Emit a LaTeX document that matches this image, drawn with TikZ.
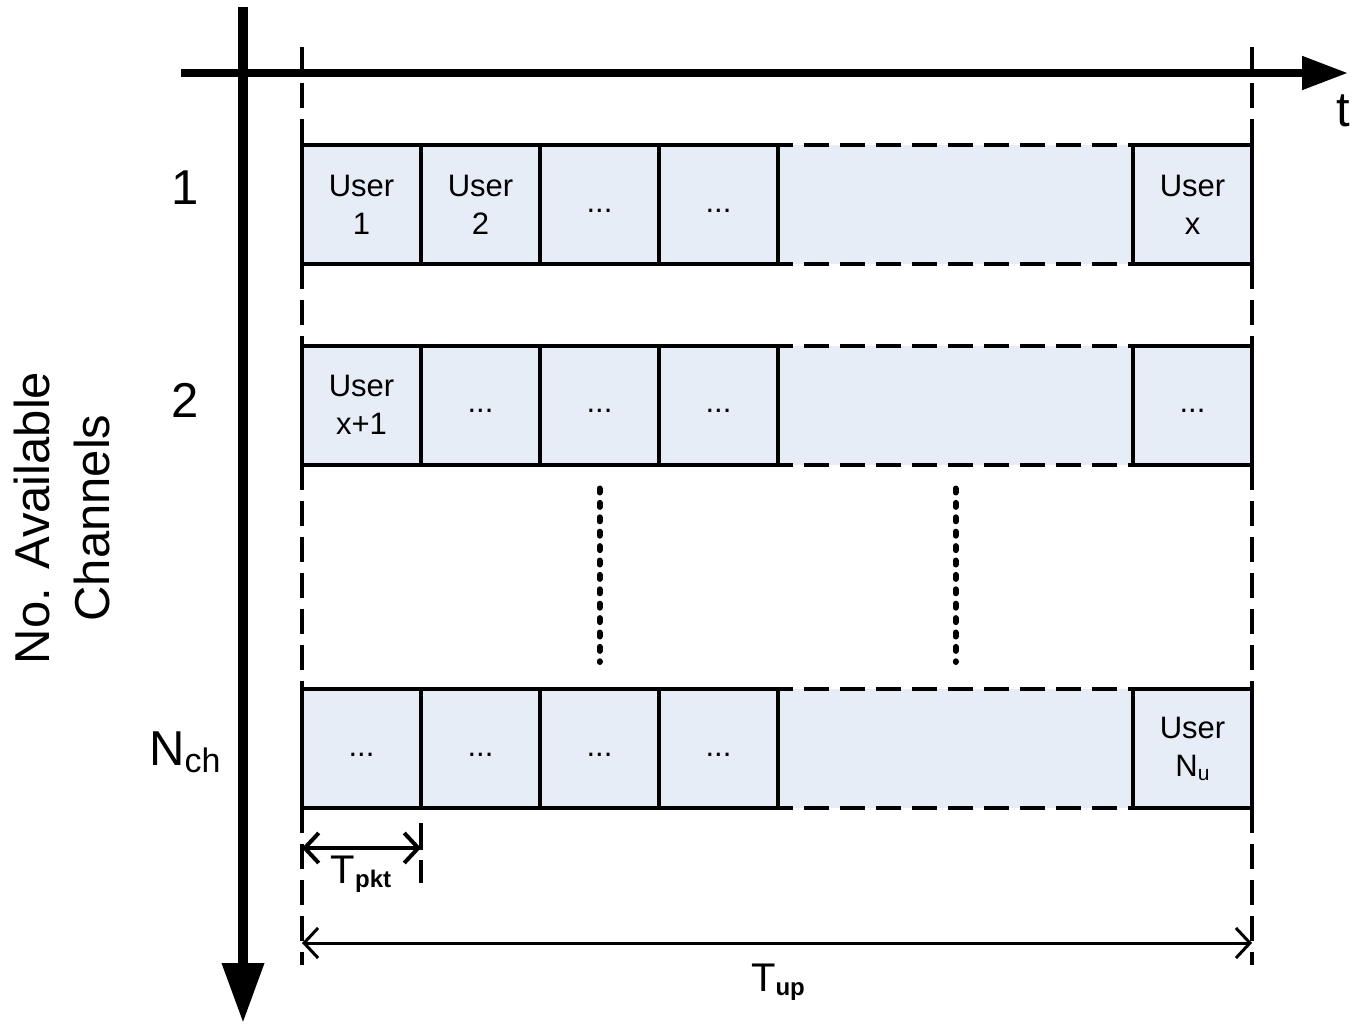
\documentclass[tikz,border=0pt]{standalone}
\usepackage{fontspec}
\setmainfont{Liberation Sans}
\usepackage{tikz}
\usetikzlibrary{positioning}
\usetikzlibrary{arrows.meta}
\definecolor{cellblue}{RGB}{230,237,247}
\newcommand{\lowsub}[3]{\raisebox{-#1}{\fontsize{#2}{#2}\selectfont #3}}

\begin{document}
\begin{tikzpicture}[x=1pt, y=-1pt]
      \tikzstyle{cellbox} = [draw, line width=4pt, fill=cellblue, minimum width=119pt, minimum height=119pt, inner sep=0pt, outer sep=0pt, align=center, font=\fontsize{31}{38}\selectfont]
      \tikzstyle{gapbox} = [fill=cellblue, minimum width=351pt, minimum height=119pt, inner sep=0pt, outer sep=0pt]
      \tikzstyle{dashline} = [line width=4pt, dash pattern=on 25pt off 11pt]
      \tikzstyle{dotline} = [line width=6pt, line cap=round, dash pattern=on 4pt off 10.4pt]
      \tikzstyle{rowlabel} = [inner sep=0pt, anchor=base, font=\fontsize{49}{60}\selectfont]
      \tikzstyle{spanarrow} = [{Straight Barb[length=14pt,width=30pt]}-{Straight Barb[length=14pt,width=30pt]}]

      \useasboundingbox (0,0) rectangle (1352,1024);

      % channel 1
      \node (user1) [cellbox] at (361.5,204.5) {User\\1};
      \node (user2) [cellbox, right=0pt of user1] {User\\2};
      \node (slot1c) [cellbox, right=0pt of user2] {\strut...};
      \node (slot1d) [cellbox, right=0pt of slot1c] {\strut...};
      \node (gap1) [gapbox, right=2pt of slot1d] {};
      \node (userX) [cellbox, right=2pt of gap1] {User\\x};
      \draw[dashline, dash phase=10pt] (slot1d.north east) -- (userX.north west);
      \draw[dashline, dash phase=10pt] (slot1d.south east) -- (userX.south west);

      % channel 2
      \node (userX1) [cellbox] at (361.5,405) {User\\x+1};
      \node (slot2b) [cellbox, right=0pt of userX1] {\strut...};
      \node (slot2c) [cellbox, right=0pt of slot2b] {\strut...};
      \node (slot2d) [cellbox, right=0pt of slot2c] {\strut...};
      \node (gap2) [gapbox, right=2pt of slot2d] {};
      \node (slot2f) [cellbox, right=2pt of gap2] {\strut...};
      \draw[dashline, dash phase=10pt] (slot2d.north east) -- (slot2f.north west);
      \draw[dashline, dash phase=10pt] (slot2d.south east) -- (slot2f.south west);

      % channel N_ch
      \node (slotNa) [cellbox] at (361.5,748.5) {\strut...};
      \node (slotNb) [cellbox, right=0pt of slotNa] {\strut...};
      \node (slotNc) [cellbox, right=0pt of slotNb] {\strut...};
      \node (slotNd) [cellbox, right=0pt of slotNc] {\strut...};
      \node (gapN) [gapbox, right=2pt of slotNd] {};
      \node (userNu) [cellbox, right=2pt of gapN] {User\\N\lowsub{4pt}{21}{u}};
      \draw[dashline, dash phase=10pt] (slotNd.north east) -- (userNu.north west);
      \draw[dashline, dash phase=10pt] (slotNd.south east) -- (userNu.south west);

      % skipped channels
      \draw[dotline] ([yshift=-24pt]slot2c.south) -- ([yshift=27pt]slotNc.north);
      \draw[dotline] ([yshift=-24pt]gap2.south) -- ([yshift=27pt]gapN.north);

      % update period borders
      \coordinate (leftTop) at (302,47);
      \coordinate (leftEnd) at (302,965);
      \coordinate (rightTop) at (1252,47);
      \coordinate (rightEnd) at (1252,965);
      \draw[dashline] (leftTop) -- (user1.north west) (user1.south west) -- (userX1.north west)
            (userX1.south west) -- (slotNa.north west) (slotNa.south west) -- (leftEnd);
      \draw[dashline] (rightTop) -- (userX.north east) (userX.south east) -- (slot2f.north east)
            (slot2f.south east) -- (userNu.north east) (userNu.south east) -- (rightEnd);

      % axes
      \coordinate (chanTop) at (243,7);
      \coordinate (chanEnd) at (243,1023);
      \coordinate (timeStart) at (181,73);
      \coordinate (timeEnd) at (1348,73);
      \draw[line width=8pt, -{Triangle[length=46pt,width=32pt]}] (timeStart) -- (timeEnd);
      \draw[line width=10pt, -{Triangle[length=60pt,width=40pt]}] (chanTop) -- (chanEnd);
      \node (timeLabel) [inner sep=0pt, anchor=base west, font=\fontsize{49}{60}\selectfont] at (1336,127) {t};
      \node (chanLabel) [rotate=90, align=center, inner sep=0pt, font=\fontsize{49}{60}\selectfont] at (62,518) {No. Available\\Channels};

      \node (rowOne) [rowlabel] at (185,205) {1};
      \node (rowTwo) [rowlabel] at (185,417) {2};
      \node (rowN) [rowlabel] at (185,765) {N\lowsub{7pt}{34}{ch}};

      % packet and update durations
      \coordinate (pktStart) at (302,848);
      \coordinate (pktEnd) at (421,848);
      \draw[line width=4pt, spanarrow] (pktStart) -- (pktEnd);
      \draw[line width=4pt] (421,823) -- (421,850) (421,860) -- (421,883);
      \node (pktLabel) [inner sep=0pt, anchor=base, font=\fontsize{40}{48}\selectfont] at (361,883) {T\lowsub{4pt}{24}{\bfseries pkt}};

      \coordinate (upStart) at (302,943);
      \coordinate (upEnd) at (1252,943);
      \draw[line width=3pt, spanarrow] (upStart) -- (upEnd);
      \node (upLabel) [inner sep=0pt, anchor=base, font=\fontsize{40}{48}\selectfont] at (778,991) {T\lowsub{4pt}{24}{\bfseries up}};
\end{tikzpicture}
\end{document}
